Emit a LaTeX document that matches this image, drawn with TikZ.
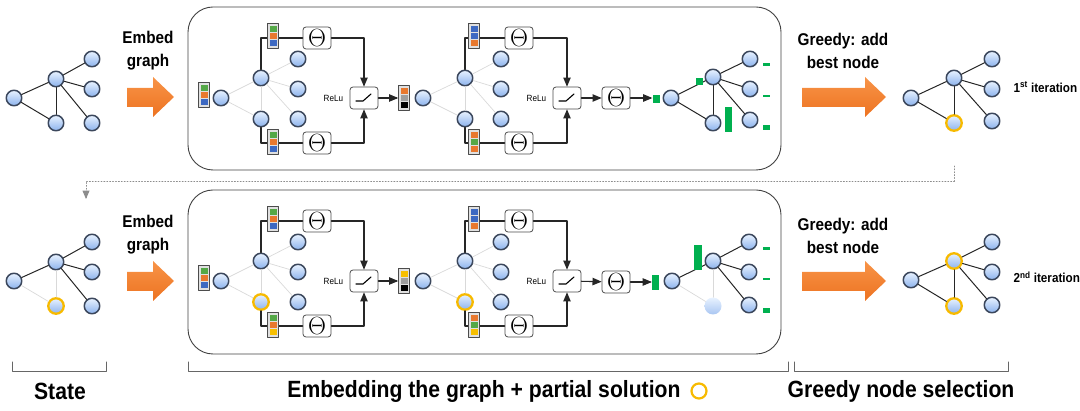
\documentclass[tikz,border=0pt]{standalone}
\usepackage{fontspec}
\setmainfont{Liberation Sans}[FakeStretch=0.9]
\usepackage{tikz}
\usetikzlibrary{arrows,calc}
\definecolor{nodeblue}{rgb}{0.55,0.70,0.93}
\definecolor{nodelight}{rgb}{0.91,0.95,1.}
\definecolor{nodeedge}{rgb}{0.23,0.28,0.36}
\definecolor{solgold}{rgb}{0.97,0.73,0.}
\definecolor{scoregreen}{rgb}{0.,0.69,0.31}
\definecolor{fgreen}{rgb}{0.33,0.66,0.28}
\definecolor{forange}{rgb}{0.91,0.47,0.18}
\definecolor{fblue}{rgb}{0.24,0.41,0.76}
\definecolor{fgold}{rgb}{0.97,0.75,0.}
\definecolor{fgray}{rgb}{0.62,0.62,0.62}
\definecolor{arrorange}{rgb}{0.93,0.45,0.13}
\definecolor{arrlight}{rgb}{0.97,0.58,0.28}
\tikzset{
  gnode/.style={circle,draw=nodeedge,line width=1.5pt,top color=nodelight,bottom color=nodeblue,minimum size=15.5pt,inner sep=0pt},
  solnode/.style={gnode,draw=solgold,line width=2.3pt},
  ghostnode/.style={circle,draw=none,top color=nodelight,bottom color=nodeblue!75,minimum size=17pt,inner sep=0pt},
  edge/.style={line width=1pt,draw=black!85},
  faint/.style={line width=0.7pt,draw=black!15},
  flow/.style={line width=1.1pt,draw=black!85},
  thetabox/.style={draw=black!70,rounded corners=3pt,fill=white,minimum width=28pt,minimum height=22pt,inner sep=0pt,line width=0.8pt,font=\fontsize{24}{24}\selectfont},
  relubox/.style={thetabox},
  vecbox/.style={draw=black!70,fill=black!12,minimum width=11pt,minimum height=25pt,inner sep=0pt,line width=0.7pt},
  cell/.style={minimum width=7pt,minimum height=6pt,inner sep=0pt},
  score/.style={fill=scoregreen,minimum width=7pt,inner sep=0pt},
  bigtext/.style={font=\bfseries\fontsize{17}{23}\selectfont,align=center},
  labtext/.style={font=\bfseries\fontsize{23.5}{24}\selectfont},
  itertext/.style={font=\bfseries\fontsize{13}{13}\selectfont,anchor=west},
  relutext/.style={font=\fontsize{9}{9}\selectfont,anchor=east}
}
% feature vector: name, position, three colours
\newcommand{\featvec}[5]{%
  \node[vecbox] (#1) at (#2) {};
  \node[cell,fill=#3] (#1a) at ([yshift=7pt]#1.center) {};
  \node[cell,fill=#4] (#1b) at (#1.center) {};
  \node[cell,fill=#5] (#1c) at ([yshift=-7pt]#1.center) {};
}
\begin{document}
\begin{tikzpicture}[line cap=round,line join=round,>=triangle 45,x=1pt,y=-1pt]
    \useasboundingbox (0,0) rectangle (1080,411);
    % ---------- first iteration ----------
    % state
    \node[gnode] (g1l) at (14,98) {};
    \node[gnode] (g1h) at (56,79) {};
    \node[gnode] (g1t) at (92,59) {};
    \node[gnode] (g1m) at (92,89) {};
    \node[gnode] (g1b) at (56,123) {};
    \node[gnode] (g1r) at (92,123) {};
    \draw[edge] (g1l) -- (g1h);
    \draw[edge] (g1l) -- (g1b);
    \draw[edge] (g1h) -- (g1t);
    \draw[edge] (g1h) -- (g1m);
    \draw[edge] (g1h) -- (g1b);
    \draw[edge] (g1h) -- (g1r);
    \node[bigtext] (emb1) at (148,51) {Embed\\graph};
    \shade[top color=arrlight,bottom color=arrorange] (127,88) -- (153,88) -- (153,77) -- (174,97) -- (153,117) -- (153,107) -- (127,107) -- cycle;
    \draw[rounded corners=25pt,line width=0.9pt,draw=black!75] (188,7) rectangle (781,170);
    % first layer
    \node[gnode] (g2l) at (221,98) {};
    \node[gnode] (g2h) at (261,78) {};
    \node[gnode] (g2b) at (261,119) {};
    \node[gnode] (g2t) at (298,59) {};
    \node[gnode] (g2m) at (298,89) {};
    \node[gnode] (g2r) at (298,119) {};
    \draw[faint] (g2l) -- (g2h);
    \draw[faint] (g2l) -- (g2b);
    \draw[faint] (g2h) -- (g2t);
    \draw[faint] (g2h) -- (g2m);
    \draw[faint] (g2h) -- (g2b);
    \draw[faint] (g2h) -- (g2r);
    \node[thetabox] (th1) at (317,38) {$\Theta$};
    \node[thetabox] (tl1) at (317,143) {$\Theta$};
    \node[relubox] (r1) at (364,98) {};
    \node[relutext] (rl1) at ([xshift=-3pt]r1.west) {ReLu};
    \draw[line width=1.1pt] ([shift={(-8pt,-3pt)}]r1.center) -- ++(7pt,0) -- ++(8pt,7pt);
    \draw[flow] (g2h) |- (th1);
    \draw[flow] (g2b) |- (tl1);
    \draw[flow,->] (th1) -| (r1);
    \draw[flow,->] (tl1) -| (r1);
    \featvec{v0}{204,95}{fgreen}{forange}{fblue}
    \featvec{v1}{273,36}{fgreen}{forange}{fblue}
    \featvec{v2}{273,142}{fgreen}{forange}{fblue}
    \featvec{v3}{404,98}{forange}{fgray}{black}
    \draw[flow,->] (r1) -- (v3);
    % second layer
    \node[gnode] (g3l) at (423,98) {};
    \node[gnode] (g3h) at (465,78) {};
    \node[gnode] (g3b) at (465,119) {};
    \node[gnode] (g3t) at (501,59) {};
    \node[gnode] (g3m) at (501,89) {};
    \node[gnode] (g3r) at (501,119) {};
    \draw[faint] (g3l) -- (g3h);
    \draw[faint] (g3l) -- (g3b);
    \draw[faint] (g3h) -- (g3t);
    \draw[faint] (g3h) -- (g3m);
    \draw[faint] (g3h) -- (g3b);
    \draw[faint] (g3h) -- (g3r);
    \node[thetabox] (th2) at (519,38) {$\Theta$};
    \node[thetabox] (tl2) at (519,143) {$\Theta$};
    \node[relubox] (r2) at (567,98) {};
    \node[relutext] (rl2) at ([xshift=-3pt]r2.west) {ReLu};
    \draw[line width=1.1pt] ([shift={(-8pt,-3pt)}]r2.center) -- ++(7pt,0) -- ++(8pt,7pt);
    \draw[flow] (g3h) |- (th2);
    \draw[flow] (g3b) |- (tl2);
    \draw[flow,->] (th2) -| (r2);
    \draw[flow,->] (tl2) -| (r2);
    \featvec{v4}{474,36}{fblue}{fblue}{forange}
    \featvec{v5}{474,142}{forange}{fgreen}{forange}
    \node[thetabox] (th3) at (616,98) {$\Theta$};
    \draw[flow,->] (r2) -- (th3);
    % scores
    \node[score,minimum height=8pt] (s1) at (656,99) {};
    \draw[flow,->] (th3) -- (th3 -| s1.west);
    \node[gnode] (g4l) at (671,98) {};
    \node[gnode] (g4h) at (713,77) {};
    \node[gnode] (g4b) at (713,123) {};
    \node[gnode] (g4t) at (750,59) {};
    \node[gnode] (g4m) at (750,89) {};
    \node[gnode] (g4r) at (750,120) {};
    \draw[edge] (g4l) -- (g4h);
    \draw[edge] (g4l) -- (g4b);
    \draw[edge] (g4h) -- (g4t);
    \draw[edge] (g4h) -- (g4m);
    \draw[edge] (g4h) -- (g4b);
    \draw[edge] (g4h) -- (g4r);
    \fill[scoregreen] (696,78) rectangle (703,85);
    \fill[scoregreen] (725,107) rectangle (732,132);
    \fill[scoregreen] (763,63) rectangle (770,66);
    \fill[scoregreen] (763,95) rectangle (770,97);
    \fill[scoregreen] (763,125) rectangle (770,130);
    % greedy step
    \node[bigtext] (grd1) at (843,51) {Greedy: add\\best node};
    \shade[top color=arrlight,bottom color=arrorange] (802,88) -- (865,88) -- (865,77) -- (886,97) -- (865,117) -- (865,107) -- (802,107) -- cycle;
    \node[gnode] (g5l) at (911,98) {};
    \node[gnode] (g5h) at (954,78) {};
    \node[solnode] (g5b) at (954,123) {};
    \node[gnode] (g5t) at (992,59) {};
    \node[gnode] (g5m) at (992,89) {};
    \node[gnode] (g5r) at (992,121) {};
    \draw[edge] (g5l) -- (g5h);
    \draw[edge] (g5l) -- (g5b);
    \draw[edge] (g5h) -- (g5t);
    \draw[edge] (g5h) -- (g5m);
    \draw[edge] (g5h) -- (g5b);
    \draw[edge] (g5h) -- (g5r);
    \node[itertext] (it1) at (1010,87) {1\textsuperscript{st} iteration};
    % feedback to the next state
    \coordinate (fbtop) at (954,166);
    \coordinate (fbend) at (86,199);
    \draw[dotted,line width=0.9pt,black!45,->] (fbtop) -- (954,181) -| (fbend);
    % ---------- second iteration ----------
    \begin{scope}[yshift=-183pt]
    \node[gnode] (g6l) at (14,98) {};
    \node[gnode] (g6h) at (56,79) {};
    \node[gnode] (g6t) at (92,59) {};
    \node[gnode] (g6m) at (92,89) {};
    \node[solnode] (g6b) at (56,123) {};
    \node[gnode] (g6r) at (92,123) {};
    \draw[edge] (g6l) -- (g6h);
    \draw[faint] (g6l) -- (g6b);
    \draw[edge] (g6h) -- (g6t);
    \draw[edge] (g6h) -- (g6m);
    \draw[faint] (g6h) -- (g6b);
    \draw[edge] (g6h) -- (g6r);
    \node[bigtext] (emb2) at (148,52) {Embed\\graph};
    \shade[top color=arrlight,bottom color=arrorange] (127,89) -- (153,89) -- (153,78) -- (174,98) -- (153,118) -- (153,108) -- (127,108) -- cycle;
    \draw[rounded corners=25pt,line width=0.9pt,draw=black!75] (188,7) rectangle (781,171);
    % first layer
    \node[gnode] (g7l) at (221,98) {};
    \node[gnode] (g7h) at (261,78) {};
    \node[solnode] (g7b) at (261,119) {};
    \node[gnode] (g7t) at (298,59) {};
    \node[gnode] (g7m) at (298,89) {};
    \node[gnode] (g7r) at (298,119) {};
    \draw[faint] (g7l) -- (g7h);
    \draw[faint] (g7l) -- (g7b);
    \draw[faint] (g7h) -- (g7t);
    \draw[faint] (g7h) -- (g7m);
    \draw[faint] (g7h) -- (g7b);
    \draw[faint] (g7h) -- (g7r);
    \node[thetabox] (th4) at (317,38) {$\Theta$};
    \node[thetabox] (tl4) at (317,143) {$\Theta$};
    \node[relubox] (r4) at (364,98) {};
    \node[relutext] (rl4) at ([xshift=-3pt]r4.west) {ReLu};
    \draw[line width=1.1pt] ([shift={(-8pt,-3pt)}]r4.center) -- ++(7pt,0) -- ++(8pt,7pt);
    \draw[flow] (g7h) |- (th4);
    \draw[flow] (g7b) |- (tl4);
    \draw[flow,->] (th4) -| (r4);
    \draw[flow,->] (tl4) -| (r4);
    \featvec{w0}{204,95}{fgreen}{forange}{fblue}
    \featvec{w1}{273,36}{fgreen}{forange}{fblue}
    \featvec{w2}{273,142}{fgreen}{forange}{fgold}
    \featvec{w3}{404,98}{fgold}{fgray}{black}
    \draw[flow,->] (r4) -- (w3);
    % second layer
    \node[gnode] (g8l) at (423,98) {};
    \node[gnode] (g8h) at (465,78) {};
    \node[solnode] (g8b) at (465,119) {};
    \node[gnode] (g8t) at (501,59) {};
    \node[gnode] (g8m) at (501,89) {};
    \node[gnode] (g8r) at (501,119) {};
    \draw[faint] (g8l) -- (g8h);
    \draw[faint] (g8l) -- (g8b);
    \draw[faint] (g8h) -- (g8t);
    \draw[faint] (g8h) -- (g8m);
    \draw[faint] (g8h) -- (g8b);
    \draw[faint] (g8h) -- (g8r);
    \node[thetabox] (th5) at (519,38) {$\Theta$};
    \node[thetabox] (tl5) at (519,143) {$\Theta$};
    \node[relubox] (r5) at (567,98) {};
    \node[relutext] (rl5) at ([xshift=-3pt]r5.west) {ReLu};
    \draw[line width=1.1pt] ([shift={(-8pt,-3pt)}]r5.center) -- ++(7pt,0) -- ++(8pt,7pt);
    \draw[flow] (g8h) |- (th5);
    \draw[flow] (g8b) |- (tl5);
    \draw[flow,->] (th5) -| (r5);
    \draw[flow,->] (tl5) -| (r5);
    \featvec{w4}{474,36}{fblue}{fblue}{forange}
    \featvec{w5}{474,142}{forange}{fgreen}{fgold}
    \node[thetabox] (th6) at (616,99) {$\Theta$};
    \draw[flow,->] (r5) -- (th6);
    % scores
    \node[score,minimum height=15pt] (s2) at (655.5,100) {};
    \draw[flow,->] (th6) -- (th6 -| s2.west);
    \node[gnode] (g9l) at (672,98) {};
    \node[gnode] (g9h) at (713,78) {};
    \node[ghostnode] (g9b) at (713,123) {};
    \node[gnode] (g9t) at (749,59) {};
    \node[gnode] (g9m) at (749,89) {};
    \node[gnode] (g9r) at (749,122) {};
    \draw[edge] (g9l) -- (g9h);
    \draw[faint] (g9l) -- (g9b);
    \draw[edge] (g9h) -- (g9t);
    \draw[edge] (g9h) -- (g9m);
    \draw[faint] (g9h) -- (g9b);
    \draw[edge] (g9h) -- (g9r);
    \fill[scoregreen] (694,62) rectangle (702,87);
    \fill[scoregreen] (763,64) rectangle (770,67);
    \fill[scoregreen] (763,95) rectangle (770,97);
    \fill[scoregreen] (763,125) rectangle (770,130);
    % greedy step
    \node[bigtext] (grd2) at (843,53) {Greedy: add\\best node};
    \shade[top color=arrlight,bottom color=arrorange] (802,89) -- (865,89) -- (865,78) -- (886,98) -- (865,118) -- (865,108) -- (802,108) -- cycle;
    \node[gnode] (g10l) at (911,97) {};
    \node[solnode] (g10h) at (954,78) {};
    \node[solnode] (g10b) at (954,123) {};
    \node[gnode] (g10t) at (992,59) {};
    \node[gnode] (g10m) at (992,89) {};
    \node[gnode] (g10r) at (992,122) {};
    \draw[edge] (g10l) -- (g10h);
    \draw[edge] (g10l) -- (g10b);
    \draw[edge] (g10h) -- (g10t);
    \draw[edge] (g10h) -- (g10m);
    \draw[edge] (g10h) -- (g10b);
    \draw[edge] (g10h) -- (g10r);
    \node[itertext] (it2) at (1010,94) {2\textsuperscript{nd} iteration};
    \end{scope}
    % ---------- captions ----------
    \draw[line width=1pt,black!60] (12,362) -- (12,372) -- (106,372) -- (106,362);
    \draw[line width=1pt,black!60] (188,362) -- (188,372) -- (788,372) -- (788,362);
    \draw[line width=1pt,black!60] (794,362) -- (794,372) -- (1008,372) -- (1008,362);
    \node[labtext] (statecap) at (60,391) {State};
    \node[labtext,anchor=east] (embcap) at (684,391) {Embedding the graph + partial solution};
    \node[circle,draw=solgold,line width=2.2pt,minimum size=15pt,inner sep=0pt] (solmark) at (699,391) {};
    \node[labtext] (grdcap) at (901,391) {Greedy node selection};
\end{tikzpicture}
\end{document}
